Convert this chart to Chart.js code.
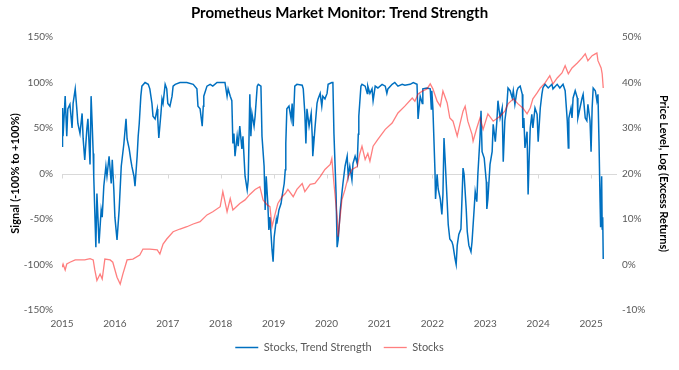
<!DOCTYPE html>
<html>
<head>
<meta charset="utf-8">
<script src="https://cdn.jsdelivr.net/npm/chart.js@4.4.0/dist/chart.umd.min.js"></script>
<style>
  html, body { margin: 0; padding: 0; background: #fff; }
  #wrap { width: 679px; height: 370px; }
</style>
</head>
<body>
<div id="wrap"><canvas id="chart" width="679" height="370"></canvas></div>
<script>
// ---- data (decimal years) ----
const trendYears = [
  2015.00,2015.01,2015.02,2015.06,2015.09,2015.11,2015.15,2015.19,2015.21,2015.25,
  2015.28,2015.30,2015.34,2015.38,2015.40,2015.43,2015.47,2015.49,2015.53,2015.55,
  2015.57,2015.59,2015.60,2015.64,2015.66,2015.70,2015.74,2015.76,2015.79,2015.83,
  2015.85,2015.89,2015.93,2015.95,2015.98,2016.00,2016.04,2016.08,2016.12,2016.17,
  2016.21,2016.23,2016.27,2016.30,2016.32,2016.36,2016.38,2016.42,2016.44,2016.46,
  2016.49,2016.51,2016.57,2016.63,2016.66,2016.70,2016.72,2016.76,2016.80,2016.81,
  2016.83,2016.87,2016.89,2016.91,2016.95,2016.98,2017.00,2017.04,2017.08,2017.10,
  2017.14,2017.23,2017.36,2017.48,2017.55,2017.57,2017.61,2017.65,2017.67,2017.68,
  2017.74,2017.80,2017.85,2017.93,2018.08,2018.12,2018.14,2018.18,2018.21,2018.23,
  2018.25,2018.27,2018.31,2018.33,2018.36,2018.40,2018.42,2018.46,2018.50,2018.52,
  2018.55,2018.57,2018.59,2018.63,2018.65,2018.69,2018.71,2018.76,2018.78,2018.82,
  2018.84,2018.86,2018.89,2018.91,2018.93,2018.97,2018.99,2019.01,2019.05,2019.06,
  2019.10,2019.14,2019.16,2019.20,2019.22,2019.23,2019.25,2019.29,2019.33,2019.35,
  2019.37,2019.40,2019.44,2019.54,2019.56,2019.59,2019.61,2019.63,2019.67,2019.71,
  2019.73,2019.74,2019.78,2019.80,2019.82,2019.84,2019.88,2019.91,2019.93,2019.97,
  2020.01,2020.03,2020.10,2020.12,2020.14,2020.18,2020.20,2020.22,2020.26,2020.29,
  2020.31,2020.35,2020.39,2020.41,2020.44,2020.48,2020.50,2020.54,2020.58,2020.60,
  2020.61,2020.65,2020.67,2020.73,2020.77,2020.78,2020.82,2020.86,2020.88,2020.92,
  2020.97,2021.05,2021.11,2021.14,2021.16,2021.24,2021.29,2021.35,2021.43,2021.48,
  2021.58,2021.64,2021.71,2021.73,2021.77,2021.81,2021.82,2021.90,2021.96,2021.98,
  2021.99,2022.01,2022.05,2022.06,2022.09,2022.11,2022.15,2022.18,2022.20,2022.22,
  2022.24,2022.28,2022.30,2022.33,2022.37,2022.39,2022.43,2022.45,2022.47,2022.50,
  2022.54,2022.56,2022.58,2022.60,2022.64,2022.66,2022.69,2022.73,2022.75,2022.79,
  2022.81,2022.84,2022.86,2022.90,2022.92,2022.94,2022.98,2023.02,2023.03,2023.05,
  2023.09,2023.13,2023.15,2023.19,2023.22,2023.24,2023.28,2023.32,2023.34,2023.37,
  2023.41,2023.43,2023.47,2023.51,2023.53,2023.56,2023.60,2023.62,2023.66,2023.70,
  2023.71,2023.73,2023.75,2023.79,2023.81,2023.83,2023.85,2023.88,2023.90,2023.94,
  2023.98,2024.00,2024.04,2024.07,2024.09,2024.13,2024.19,2024.26,2024.28,2024.36,
  2024.41,2024.47,2024.51,2024.55,2024.57,2024.58,2024.62,2024.64,2024.66,2024.70,
  2024.74,2024.75,2024.79,2024.83,2024.85,2024.89,2024.92,2024.94,2024.98,2025.00,
  2025.02,2025.04,2025.08,2025.11,2025.13,2025.15,2025.17,2025.18,2025.20,2025.21,
  2025.22,2025.23
];
const trendValues = [
  30,72,41,85,41,71,76,50,77,93,
  71,55,44,66,38,15,49,60,10,85,
  55,22,-3,-81,-22,-77,-40,-48,-14,8,
  -3,19,-11,15,-18,-48,-73,-40,8,33,
  60,38,27,15,8,-3,-14,19,41,55,
  85,96,100,98,93,77,63,60,71,60,
  39,66,82,77,98,93,77,74,85,96,
  98,100,100,98,93,74,71,52,74,85,
  96,98,96,100,100,85,93,85,80,33,
  44,19,41,30,52,27,41,-3,-18,-7,
  87,41,66,52,63,96,98,96,41,8,
  -40,-3,-33,-62,-48,-84,-97,-70,-51,-55,
  -40,-33,-25,-11,4,33,71,74,60,77,
  52,96,98,97,93,66,33,71,52,66,
  41,19,49,63,77,82,88,74,85,82,
  88,98,100,100,44,-22,-81,-73,-40,-22,
  -11,8,19,-3,8,-7,11,19,11,43,
  63,96,98,96,88,96,88,93,80,96,
  94,98,96,88,93,98,100,96,98,97,
  98,100,98,60,85,77,93,94,93,71,
  91,72,2,-28,-1,-17,-28,-45,-23,39,
  17,-31,-56,-72,-75,-79,-94,-100,-79,-67,
  -61,-28,6,-1,-39,-64,-79,-86,-75,-39,
  -20,-31,-1,39,69,24,17,-9,-39,-28,
  10,24,54,35,58,80,61,72,13,58,
  76,94,91,83,91,76,91,94,96,87,
  50,61,28,46,-23,17,50,65,50,72,
  65,35,72,87,94,98,94,98,93,98,
  94,98,91,58,28,61,72,61,83,91,
  83,61,72,83,87,61,58,76,58,24,
  72,94,91,80,87,35,-31,-59,-3,-61,
  -48,-94
];

const stockYears = [
  2015.00,2015.02,2015.06,2015.09,2015.15,2015.25,2015.34,2015.43,2015.53,2015.59,
  2015.62,2015.66,2015.72,2015.76,2015.81,2015.91,2015.96,2016.04,2016.10,2016.15,
  2016.23,2016.34,2016.47,2016.53,2016.66,2016.80,2016.85,2016.91,2016.98,2017.10,
  2017.23,2017.36,2017.48,2017.61,2017.74,2017.85,2017.99,2018.04,2018.08,2018.12,
  2018.18,2018.23,2018.36,2018.46,2018.55,2018.65,2018.74,2018.80,2018.88,2018.93,
  2018.97,2019.03,2019.08,2019.16,2019.22,2019.27,2019.37,2019.44,2019.54,2019.59,
  2019.69,2019.78,2019.88,2019.97,2020.07,2020.10,2020.14,2020.20,2020.22,2020.29,
  2020.35,2020.41,2020.48,2020.58,2020.63,2020.67,2020.73,2020.78,2020.82,2020.88,
  2020.97,2021.11,2021.24,2021.35,2021.48,2021.62,2021.67,2021.73,2021.81,2021.90,
  2021.96,2022.01,2022.09,2022.15,2022.20,2022.28,2022.33,2022.39,2022.47,2022.52,
  2022.58,2022.62,2022.67,2022.75,2022.77,2022.84,2022.90,2022.96,2023.05,2023.15,
  2023.28,2023.37,2023.43,2023.53,2023.62,2023.71,2023.79,2023.85,2023.90,2023.98,
  2024.04,2024.13,2024.22,2024.28,2024.36,2024.45,2024.51,2024.57,2024.64,2024.74,
  2024.83,2024.89,2024.94,2025.02,2025.08,2025.11,2025.13,2025.19,2025.21,2025.23
];
const stockValues = [
  -0.6,0.1,-1.2,0.1,0.5,1.0,1.0,1.0,1.3,1.0,
  -1.2,-3.5,-2.1,-3.2,1.2,1.0,0.5,-2.8,-4.3,-2.1,
  1.0,1.2,2.1,3.4,3.4,3.2,2.3,4.5,5.6,7.2,
  7.8,8.3,8.9,9.4,10.9,11.6,12.7,16.0,13.8,11.6,
  14.5,12.0,13.4,14.2,15.4,16.5,17.1,14.2,13.1,12.7,
  8.3,11.2,13.4,14.9,15.6,16.5,14.9,16.5,17.8,16.0,
  17.6,17.8,19.3,20.9,22.0,23.3,17.8,10.5,6.1,14.2,
  16.5,19.3,20.9,21.5,24.4,26.0,23.1,24.4,22.7,26.0,
  27.5,29.7,31.1,33.3,34.8,36.6,35.9,37.5,38.1,38.6,
  39.7,38.6,35.9,34.8,38.1,35.5,32.2,31.5,28.2,30.8,
  33.7,34.8,31.5,28.6,27.1,30.0,32.2,29.7,33.1,31.5,
  32.6,33.7,35.3,36.4,35.3,34.4,33.1,34.4,36.4,37.7,
  38.8,39.9,41.5,39.7,41.0,42.1,43.7,41.9,43.2,44.3,
  45.4,46.3,44.8,45.9,46.3,46.5,44.8,43.2,41.9,38.8
];

const yearTicks = [2015,2016,2017,2018,2019,2020,2021,2022,2023,2024,2025];

const FONT = 'Lato, "Open Sans", sans-serif';
const GREY = '#595959';

// zero line with small year ticks (excel style axis crossing at 0)
const zeroAxis = {
  id: 'zeroAxis',
  beforeDatasetsDraw(chart) {
    const { ctx, chartArea, scales } = chart;
    const y0 = Math.round(scales.y.getPixelForValue(0)) + 0.5;
    ctx.save();
    ctx.strokeStyle = '#D9D9D9';
    ctx.lineWidth = 1;
    ctx.beginPath();
    ctx.moveTo(chartArea.left, y0);
    ctx.lineTo(chartArea.right, y0);
    yearTicks.forEach(yr => {
      const x = Math.round(scales.x.getPixelForValue(yr)) + 0.5;
      ctx.moveTo(x, y0);
      ctx.lineTo(x, y0 + 4);
    });
    ctx.stroke();
    ctx.restore();
  }
};

new Chart(document.getElementById('chart'), {
  type: 'line',
  data: {
    datasets: [{
      label: 'Stocks, Trend Strength',
      data: trendYears.map((x, i) => ({ x, y: trendValues[i] })),
      yAxisID: 'y',
      borderColor: '#0070C0',
      borderWidth: 1.5,
      pointRadius: 0,
      tension: 0,
      order: 1
    }, {
      label: 'Stocks',
      data: stockYears.map((x, i) => ({ x, y: stockValues[i] })),
      yAxisID: 'y1',
      borderColor: 'rgba(255,0,0,0.5)',
      borderWidth: 1.3,
      pointRadius: 0,
      tension: 0,
      order: 0
    }]
  },
  options: {
    responsive: false,
    animation: false,
    layout: { padding: { left: 3, right: 3, top: 0, bottom: 7 } },
    plugins: {
      title: {
        display: true,
        text: 'Prometheus Market Monitor: Trend Strength',
        color: '#000',
        font: { family: FONT, size: 15, weight: 'bold' },
        padding: { top: 4, bottom: 15 }
      },
      legend: {
        position: 'bottom',
        labels: {
          usePointStyle: true,
          pointStyle: 'line',
          pointStyleWidth: 23,
          boxWidth: 23,
          color: GREY,
          font: { family: FONT, size: 11 },
          padding: 12,
          sort: (a, b) => a.datasetIndex - b.datasetIndex
        }
      },
      tooltip: { enabled: false }
    },
    scales: {
      x: {
        type: 'linear',
        min: 2015,
        max: 2025.49,
        grid: { display: false, drawTicks: false },
        border: { display: false },
        ticks: {
          stepSize: 1,
          includeBounds: false,
          padding: 8,
          color: GREY,
          font: { family: FONT, size: 10 },
          callback: v => Number.isInteger(v) ? String(v) : ''
        },
        afterFit: s => { s.height = 20; }
      },
      y: {
        position: 'left',
        min: -150,
        max: 150,
        grid: { display: false, drawTicks: false },
        border: { display: false },
        ticks: {
          stepSize: 50,
          padding: 9,
          color: GREY,
          font: { family: FONT, size: 10 },
          callback: v => v + '%'
        },
        title: {
          display: true,
          text: 'Signal (-100% to +100%)',
          color: '#000',
          font: { family: FONT, size: 11, weight: 'bold' },
          padding: { top: 6, bottom: 0 }
        },
        afterFit: s => { s.width = 59; }
      },
      y1: {
        position: 'right',
        min: -10,
        max: 50,
        grid: { display: false, drawTicks: false },
        border: { display: false },
        ticks: {
          stepSize: 10,
          padding: 5,
          color: GREY,
          font: { family: FONT, size: 10 },
          callback: v => v + '%'
        },
        title: {
          display: true,
          text: 'Price Level, Log (Excess Returns)',
          color: '#000',
          font: { family: FONT, size: 11, weight: 'bold' },
          padding: { top: 6, bottom: 0 }
        },
        afterFit: s => { s.width = 59; }
      }
    }
  },
  plugins: [zeroAxis]
});
</script>
</body>
</html>
